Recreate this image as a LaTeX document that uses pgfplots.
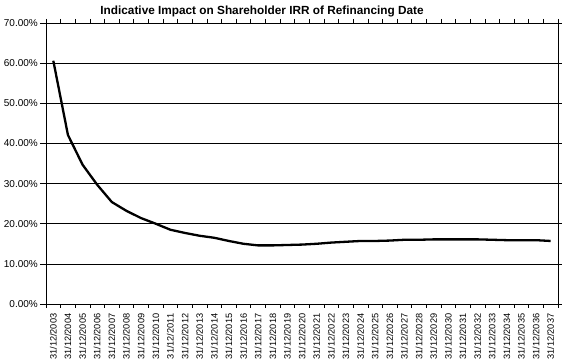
\documentclass[border=0pt]{standalone}
\usepackage{pgfplots}
\pgfplotsset{compat=1.18}
\usepackage{fontspec}
\setmainfont{Liberation Sans}
\pgfplotstableread{
x y
0 60.6
1 42.1
2 34.7
3 29.7
4 25.4
5 23.2
6 21.4
7 20.0
8 18.5
9 17.7
10 17.0
11 16.5
12 15.7
13 15.0
14 14.6
15 14.6
16 14.7
17 14.8
18 15.0
19 15.3
20 15.5
21 15.7
22 15.7
23 15.8
24 16.0
25 16.0
26 16.1
27 16.1
28 16.1
29 16.1
30 16.0
31 15.9
32 15.9
33 15.9
34 15.7
}\irr
\begin{document}
\begin{tikzpicture}
\begin{axis}[
  at={(0,0)}, anchor=south west,
  scale only axis, width=512pt, height=281pt,
  xmin=-0.5, xmax=34.5, ymin=0, ymax=70,
  axis line style={black, line width=0.8pt},
  tick align=outside,
  tick style={black, line width=0.6pt},
  xtick={0,...,34},
  major x tick style={draw=none},
  minor xtick={-0.5,0.5,...,34.5},
  minor tick length=4pt,
  xticklabels={31/12/2003,31/12/2004,31/12/2005,31/12/2006,31/12/2007,31/12/2008,31/12/2009,31/12/2010,31/12/2011,31/12/2012,31/12/2013,31/12/2014,31/12/2015,31/12/2016,31/12/2017,31/12/2018,31/12/2019,31/12/2020,31/12/2021,31/12/2022,31/12/2023,31/12/2024,31/12/2025,31/12/2026,31/12/2027,31/12/2028,31/12/2029,31/12/2030,31/12/2031,31/12/2032,31/12/2033,31/12/2034,31/12/2035,31/12/2036,31/12/2037},
  xticklabel style={rotate=90, anchor=east, font=\fontsize{9.2}{10}\selectfont, inner sep=0pt, xshift=-3.5pt},
  ytick={0,10,...,70},
  major tick length=6pt,
  yticklabels={0.00\%,10.00\%,20.00\%,30.00\%,40.00\%,50.00\%,60.00\%,70.00\%},
  yticklabel style={font=\fontsize{10}{11}\selectfont, inner sep=0pt, xshift=-2pt},
  ymajorgrids, grid style={black, line width=0.7pt},
  title={\textbf{Indicative Impact on Shareholder IRR of Refinancing Date}},
  title style={at={(axis description cs:0.422,1)}, anchor=base, inner sep=0pt, yshift=2pt, font=\fontsize{11.8}{13}\selectfont},
  clip=false,
]
\addplot[black, line width=2.3pt, mark=none, line join=round] table[x=x,y=y]{\irr};
\end{axis}
\pgfresetboundingbox
\path[use as bounding box] (-46pt,-57pt) rectangle (516pt,304pt);
\end{tikzpicture}
\end{document}
